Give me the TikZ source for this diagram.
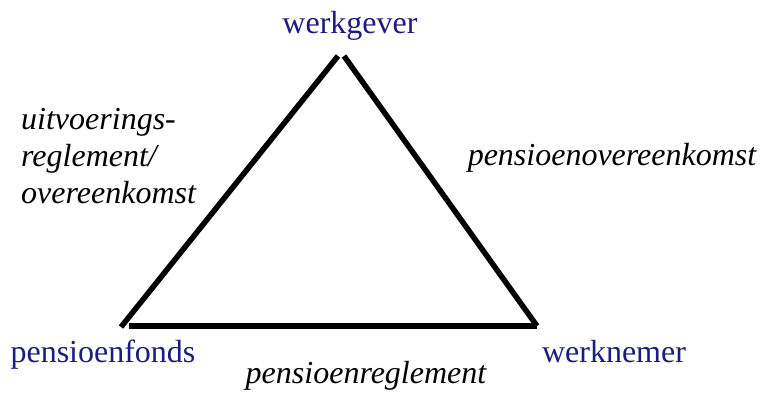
\documentclass[tikz,border=0pt]{standalone}
\usepackage{fontspec}
\setmainfont{Liberation Serif}
\newfontfamily\tekstletter{Liberation Serif}
\definecolor{partijblauw}{RGB}{28,28,128}
\begin{document}
\begin{tikzpicture}[x=1pt, y=-1pt,
	partij/.style={text=partijblauw, anchor=base, inner sep=0pt, font=\tekstletter\fontsize{32}{37}\selectfont},
	relatie/.style={anchor=base, inner sep=0pt, font=\tekstletter\fontsize{32}{37}\selectfont\itshape}]
				\useasboundingbox (0, 0) rectangle (760, 394);
				\coordinate (A) at (121, 327);
				\coordinate (B) at (338, 56);
				\coordinate (C) at (344, 56);
				\coordinate (D) at (537, 326);
				\coordinate (E) at (129, 326);
				\coordinate (F) at (537, 326);
				
				\draw[line width=5.5pt] (A) -- (B);
				\draw[line width=5.5pt] (C) -- (D);
				\draw[line width=5.5pt] (E) -- (F);
				
				\node[partij] (gever) at (350, 33) {werkgever};
				\node[partij] (fonds) at (103, 362) {pensioenfonds};
				\node[partij] (nemer) at (614, 362) {werknemer};
				
				\node[relatie, align=left, anchor=north west] (uitvoering) at (21, 108) {uitvoerings-\\reglement/\\overeenkomst};
				\node[relatie] (overeenkomst) at (612, 165) {pensioenovereenkomst};
				\node[relatie] (reglement) at (366, 383) {pensioenreglement};
			\end{tikzpicture}
\end{document}
